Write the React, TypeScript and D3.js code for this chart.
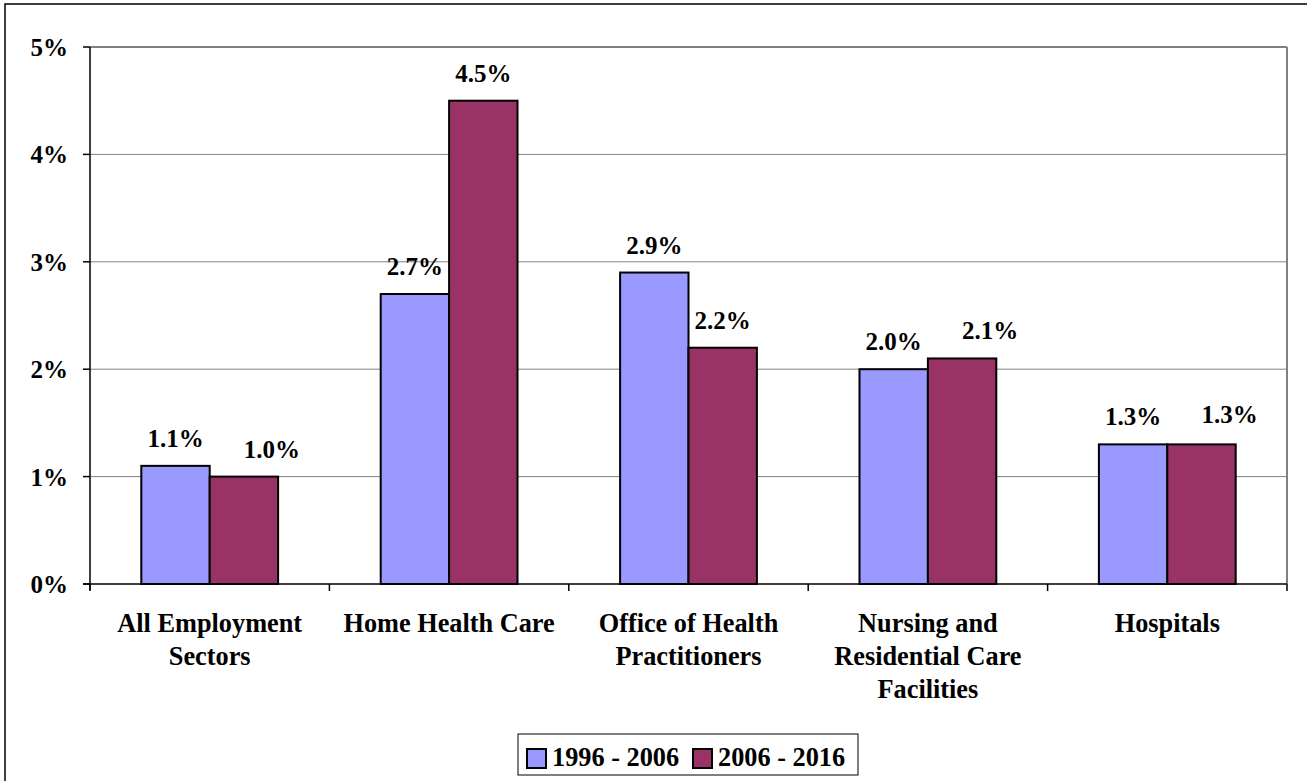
import React, { useEffect, useRef } from "react";
import * as d3 from "d3";

const categories = [
  ["All Employment", "Sectors"],
  ["Home Health Care"],
  ["Office of Health", "Practitioners"],
  ["Nursing and", "Residential Care", "Facilities"],
  ["Hospitals"],
];
const seriesNames = ["1996 - 2006", "2006 - 2016"];
const series1 = [1.1, 2.7, 2.9, 2.0, 1.3];
const series2 = [1.0, 4.5, 2.2, 2.1, 1.3];
const yTicks = [0, 1, 2, 3, 4, 5];
const colors = ["#9999FF", "#993366"];

const W = 1307;
const H = 781;
const FONT = "'Liberation Serif', 'Times New Roman', serif";

export default function App() {
  const ref = useRef<SVGSVGElement>(null);

  useEffect(() => {
    const svg = d3.select(ref.current).attr("width", W).attr("height", H);
    svg.selectAll("*").remove();

    const left = 90;
    const right = 1287;
    const top = 47;
    const bottom = 584;

    // outer chart border (runs off the right and bottom edges)
    svg
      .append("rect")
      .attr("x", 5)
      .attr("y", 4)
      .attr("width", W + 20)
      .attr("height", H + 20)
      .attr("fill", "white")
      .attr("stroke", "black")
      .attr("stroke-width", 1.5);

    const keys = categories.map((c) => c.join(" "));
    const x = d3.scaleBand().domain(keys).range([left, right]);
    const xs = d3
      .scaleBand()
      .domain(seriesNames)
      .range([0, x.bandwidth()])
      .paddingInner(0)
      .paddingOuter(0.75);
    const y = d3.scaleLinear().domain([0, 5]).range([bottom, top]);

    // gridlines
    svg
      .append("g")
      .selectAll("line")
      .data(yTicks.filter((t) => t > 0))
      .enter()
      .append("line")
      .attr("x1", left)
      .attr("x2", right)
      .attr("y1", (d) => y(d))
      .attr("y2", (d) => y(d))
      .attr("stroke", "#808080")
      .attr("stroke-width", (d) => (d === 5 ? 2 : 1));

    // right border of plot
    svg
      .append("line")
      .attr("x1", right)
      .attr("x2", right)
      .attr("y1", top)
      .attr("y2", bottom)
      .attr("stroke", "#808080")
      .attr("stroke-width", 2);

    // bars
    const data = keys.flatMap((k, i) => {
      // second label gets nudged right when it would clash with the first
      const clash = Math.abs(y(series1[i]) - y(series2[i])) < 20;
      return [
        { key: k, s: seriesNames[0], v: series1[i], c: colors[0], dx: 0, dy: 0 },
        {
          key: k,
          s: seriesNames[1],
          v: series2[i],
          c: colors[1],
          dx: clash ? 28 : 0,
          dy: clash && series1[i] === series2[i] ? -2 : 0,
        },
      ];
    });

    svg
      .append("g")
      .selectAll("rect")
      .data(data)
      .enter()
      .append("rect")
      .attr("x", (d) => x(d.key)! + xs(d.s)!)
      .attr("y", (d) => y(d.v))
      .attr("width", xs.bandwidth())
      .attr("height", (d) => bottom - y(d.v))
      .attr("fill", (d) => d.c)
      .attr("stroke", "black")
      .attr("stroke-width", 2);

    // value labels
    svg
      .append("g")
      .selectAll("text")
      .data(data)
      .enter()
      .append("text")
      .attr("x", (d) => x(d.key)! + xs(d.s)! + xs.bandwidth() / 2 + d.dx)
      .attr("y", (d) => y(d.v) - 19 + d.dy)
      .attr("text-anchor", "middle")
      .style("font-family", FONT)
      .style("font-weight", "bold")
      .style("font-size", "25px")
      .text((d) => d.v.toFixed(1) + "%");

    // y axis
    svg
      .append("line")
      .attr("x1", left)
      .attr("x2", left)
      .attr("y1", top)
      .attr("y2", bottom + 6)
      .attr("stroke", "black")
      .attr("stroke-width", 1.5);
    const yt = svg.append("g").selectAll("g").data(yTicks).enter().append("g");
    yt.append("line")
      .attr("x1", left - 7)
      .attr("x2", left)
      .attr("y1", (d) => y(d))
      .attr("y2", (d) => y(d))
      .attr("stroke", "black")
      .attr("stroke-width", 1.5);
    yt.append("text")
      .attr("x", 68)
      .attr("y", (d) => y(d) + 9)
      .attr("text-anchor", "end")
      .style("font-family", FONT)
      .style("font-weight", "bold")
      .style("font-size", "25px")
      .text((d) => d + "%");

    // x axis
    svg
      .append("line")
      .attr("x1", left - 7)
      .attr("x2", right)
      .attr("y1", bottom)
      .attr("y2", bottom)
      .attr("stroke", "black")
      .attr("stroke-width", 1.5);
    const bounds = keys.map((k) => x(k)!).concat([right]);
    svg
      .append("g")
      .selectAll("line")
      .data(bounds)
      .enter()
      .append("line")
      .attr("x1", (d) => d)
      .attr("x2", (d) => d)
      .attr("y1", bottom)
      .attr("y2", bottom + 7)
      .attr("stroke", "black")
      .attr("stroke-width", 1.5);

    const cat = svg
      .append("g")
      .selectAll("text")
      .data(categories)
      .enter()
      .append("text")
      .attr("text-anchor", "middle")
      .style("font-family", FONT)
      .style("font-weight", "bold")
      .style("font-size", "26.3px");
    cat
      .selectAll("tspan")
      .data((d, i) => d.map((line) => ({ line, i })))
      .enter()
      .append("tspan")
      .attr("x", (d) => x(keys[d.i])! + x.bandwidth() / 2)
      .attr("y", (d, j) => 632 + j * 33)
      .text((d) => d.line);

    // legend
    const lg = svg.append("g");
    lg.append("rect")
      .attr("x", 518)
      .attr("y", 734)
      .attr("width", 340)
      .attr("height", 41)
      .attr("fill", "white")
      .attr("stroke", "black")
      .attr("stroke-width", 1);
    const legendX = [527, 693];
    seriesNames.forEach((name, i) => {
      lg.append("rect")
        .attr("x", legendX[i])
        .attr("y", 749)
        .attr("width", 19)
        .attr("height", 19)
        .attr("fill", colors[i])
        .attr("stroke", "black")
        .attr("stroke-width", 2);
      lg.append("text")
        .attr("x", legendX[i] + 25)
        .attr("y", 766)
        .style("font-family", FONT)
        .style("font-weight", "bold")
        .style("font-size", "26.3px")
        .text(name);
    });
  }, []);

  return (
    <svg
      ref={ref}
      style={{ position: "absolute", left: 0, top: 0, display: "block" }}
    />
  );
}
